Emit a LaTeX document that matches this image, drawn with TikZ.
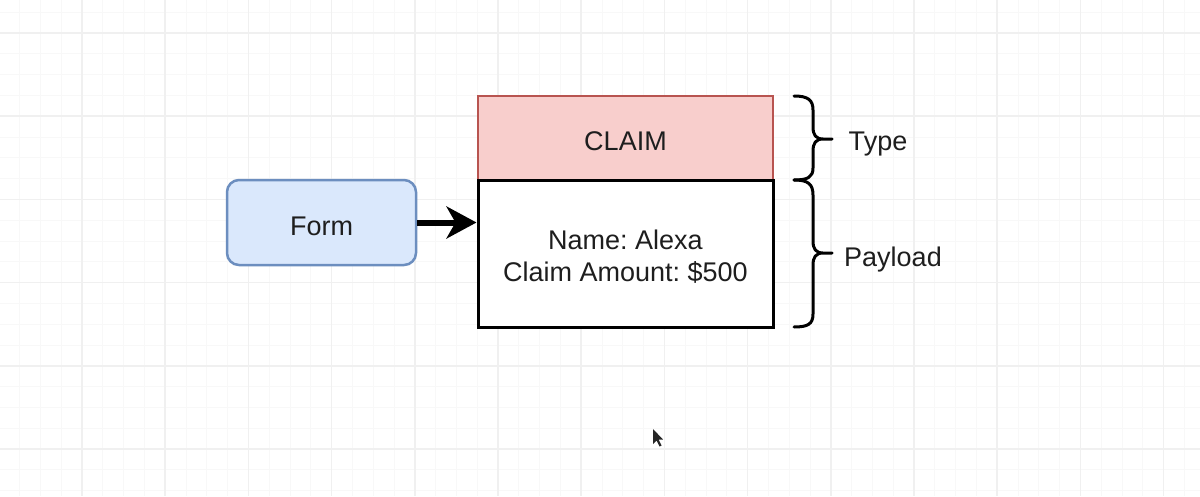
\documentclass[tikz,border=0pt]{standalone}
\usepackage{fontspec}
\setmainfont{Liberation Sans}
\usetikzlibrary{arrows.meta}
\frenchspacing
\definecolor{formfill}{HTML}{DAE8FC}
\definecolor{formline}{HTML}{6C8EBF}
\definecolor{claimfill}{HTML}{F8CECC}
\definecolor{claimline}{HTML}{B85450}
\definecolor{ink}{HTML}{1E1E1E}
\definecolor{gridminor}{HTML}{F8F8F8}
\definecolor{gridmajor}{HTML}{F0F0F0}
% pad the top of a line so the text sits a little lower in its box
\newcommand{\lowered}[1]{\raisebox{0pt}[\dimexpr\height+7pt\relax]{#1}}
\begin{document}
\begin{tikzpicture}[x=1pt,y=-1pt,
  label text/.style={font=\fontsize{27}{32}\selectfont, text=ink},
  formbox/.style={draw=formline, fill=formfill, line width=2.5pt, rounded corners=12pt,
    minimum width=189pt, minimum height=85pt, inner sep=0pt, label text},
  typebox/.style={draw=claimline, fill=claimfill, line width=2.5pt,
    minimum width=295pt, minimum height=84pt, inner sep=0pt, label text},
  payloadbox/.style={draw=black, fill=white, line width=3pt, align=center,
    minimum width=295pt, minimum height=147pt, inner sep=0pt, label text},
  bracket/.style={draw=black, line width=3pt, line cap=round, line join=round},
  flow/.style={draw=black, line width=6pt, -{Stealth[length=30pt,width=32pt,inset=9pt]}}
]
% canvas and page size
\fill[white] (0,0) rectangle (1200,496);
\useasboundingbox (0,0) rectangle (1200,496);
% background grid: fine lines, every fourth one stronger
\foreach \i in {0,...,58} {
  \draw[gridminor, line width=1pt] ({-1.2+20.8*\i},0) -- ({-1.2+20.8*\i},496);
}
\foreach \i in {0,...,24} {
  \draw[gridminor, line width=1pt] (0,{-8.6+20.8*\i}) -- (1200,{-8.6+20.8*\i});
}
\foreach \i in {0,...,15} {
  \draw[gridmajor, line width=1.5pt] ({-1.2+83.2*\i},0) -- ({-1.2+83.2*\i},496);
}
\foreach \i in {0,...,6} {
  \draw[gridmajor, line width=1.5pt] (0,{33+83.2*\i}) -- (1200,{33+83.2*\i});
}
% message blocks
\node[formbox] (form) at (321.5,222.5) {\lowered{Form}};
\node[typebox] (claim) at (625.5,138) {\lowered{CLAIM}};
\node[payloadbox] (payload) at (625.5,253.5) {\lowered{Name: Alexa}\\Claim Amount: \$500};
\draw[flow] (form.east) -- (form.east -| payload.west);
% curly brackets beside the blocks
\coordinate (t0) at (794,96);
\coordinate (t1) at (794,180);
\coordinate (p1) at (794,327);
\draw[bracket] (t0) .. controls (808,96) and (813,100) .. (813,110)
  -- (813,127) .. controls (813,135) and (816,139) .. (823,139) -- (832,139)
  (823,139) .. controls (816,139) and (813,143) .. (813,151)
  -- (813,168) .. controls (813,177) and (808,180) .. (t1);
\draw[bracket] (t1) .. controls (808,180) and (813,184) .. (813,195)
  -- (813,241) .. controls (813,249) and (816,253) .. (823,253) -- (832,253)
  (823,253) .. controls (816,253) and (813,257) .. (813,265)
  -- (813,314) .. controls (813,324) and (808,327) .. (p1);
\node[label text] (typelabel) at (878,144) {Type};
\node[label text] (payloadlabel) at (893,260) {Payload};
% mouse pointer
\fill[black!85] (653,429) -- (653,444) -- (656.5,440.5) -- (659.5,446.5) -- (661.5,445.5)
  -- (658.5,439.5) -- (663,439.5) -- cycle;
\end{tikzpicture}
\end{document}
